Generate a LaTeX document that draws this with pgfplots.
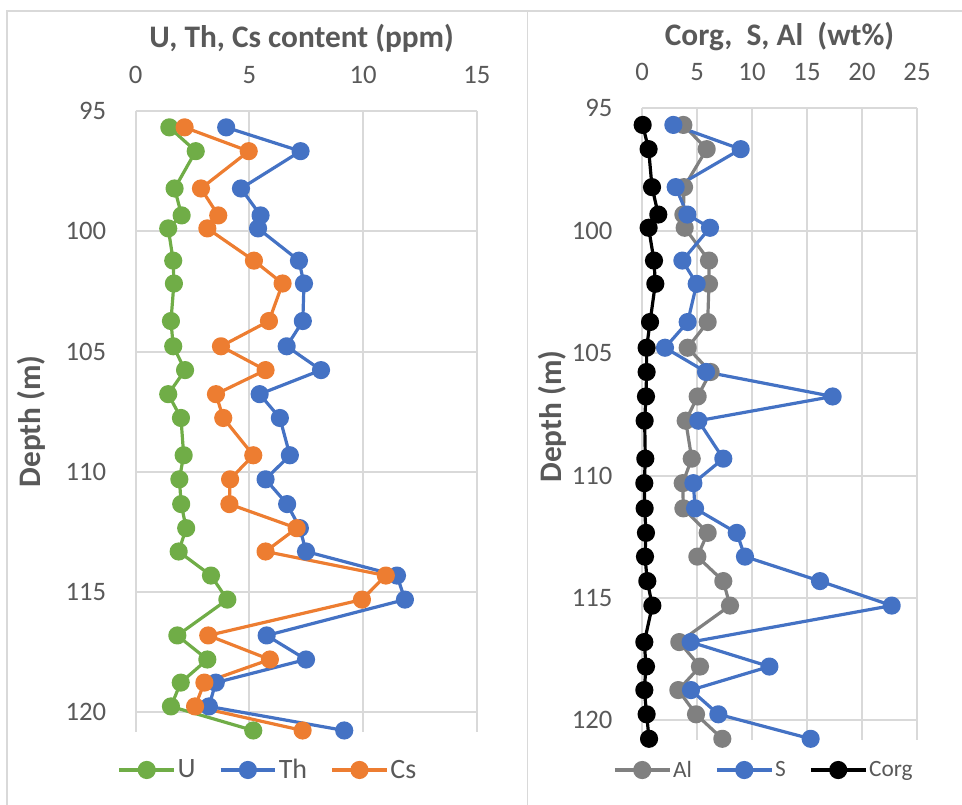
\documentclass[border=0pt]{standalone}
\usepackage{pgfplots}
\usepackage{pgfplotstable}
\pgfplotsset{compat=1.18}
\usepackage{fontspec}
\setmainfont{Carlito}

\definecolor{txt}{HTML}{595959}
\definecolor{gridc}{HTML}{D9D9D9}
\definecolor{cU}{HTML}{70AD47}
\definecolor{cTh}{HTML}{4472C4}
\definecolor{cCs}{HTML}{ED7D31}
\definecolor{cAl}{HTML}{808080}
\definecolor{cS}{HTML}{4472C4}

% depth (m), U, Th, Cs (ppm)
\pgfplotstableread{
depth  U     Th     Cs
95.68  1.48  3.98   2.15
96.67  2.64  7.25   4.97
98.22  1.71  4.63   2.87
99.34  2.02  5.49   3.63
99.88  1.43  5.38   3.15
101.22 1.65  7.18   5.20
102.17 1.68  7.40   6.46
103.73 1.55  7.35   5.86
104.78 1.65  6.64   3.75
105.77 2.17  8.15   5.71
106.77 1.43  5.45   3.53
107.76 1.99  6.34   3.85
109.31 2.11  6.78   5.17
110.31 1.92  5.71   4.15
111.34 2.00  6.66   4.12
112.34 2.22  7.22   7.08
113.31 1.89  7.49   5.71
114.31 3.31  11.49  11.00
115.31 4.03  11.84  9.95
116.80 1.83  5.76   3.19
117.80 3.15  7.49   5.90
118.76 1.98  3.52   3.02
119.75 1.55  3.22   2.61
120.75 5.17  9.17   7.34
}\trace

% depth (m), Al, S, Corg (wt%)
\pgfplotstableread{
depth  Al    S      Corg
95.68  3.76  2.85   0.06
96.67  5.88  8.97   0.60
98.22  3.82  3.06   0.91
99.34  3.76  4.12   1.48
99.88  3.88  6.18   0.60
101.22 6.09  3.67   1.09
102.17 6.09  4.97   1.21
103.73 5.97  4.15   0.73
104.78 4.15  2.09   0.42
105.77 6.24  5.82   0.42
106.77 5.06  17.33  0.36
107.76 3.97  5.12   0.24
109.31 4.52  7.39   0.30
110.31 3.70  4.67   0.21
111.34 3.76  4.82   0.24
112.34 5.97  8.61   0.36
113.31 5.03  9.36   0.27
114.31 7.39  16.18  0.48
115.31 8.00  22.70  0.94
116.80 3.39  4.42   0.21
117.80 5.27  11.58  0.36
118.76 3.30  4.45   0.21
119.75 4.91  6.94   0.42
120.75 7.30  15.33  0.64
}\major

\pgfplotsset{
  depthlog/.style={
    scale only axis,
    anchor=north west,
    y dir=reverse,
    ymin=95, ymax=120.8,
    ytick={95,100,...,120},
    xmin=0,
    axis x line*=top,
    axis y line*=left,
    axis line style={gridc, line width=1.5pt},
    grid=major,
    major grid style={gridc, line width=1.5pt},
    major tick length=0pt,
    clip=false,
    /pgf/number format/assume math mode=true,
    ticklabel style={font=\fontsize{20}{24}\selectfont, text=txt},
    xticklabel style={anchor=south, inner sep=0pt, yshift=20.5pt},
    yticklabel style={anchor=east, inner sep=0pt, xshift=-22pt},
    title style={font=\bfseries\fontsize{23.5}{28}\selectfont, text=txt,
      anchor=base, at={(axis description cs:0.5,1)}},
    ylabel={Depth (m)},
    ylabel style={font=\bfseries\fontsize{23.5}{28}\selectfont, text=txt,
      anchor=base},
    every axis plot/.append style={line width=2.4pt, mark=*, mark size=5.6pt,
      line join=round, mark options={solid}},
    legend columns=3,
    legend style={draw=none, fill=none, anchor=center, text=txt,
      nodes={inner sep=1.5pt},
      /tikz/every even column/.append style={column sep=16pt}},
    legend image code/.code={\draw[mark repeat=2,mark phase=2,#1]
      plot coordinates {(0pt,0pt) (20.5pt,0pt) (41pt,0pt)};},
  }
}

\begin{document}
\begin{tikzpicture}
\useasboundingbox (0pt,0pt) rectangle (721.5pt,-603.75pt);
% chart area frames
\draw[gridc, line width=1.2pt] (5.25pt,-603.75pt) -- (5.25pt,-8.25pt) -- (721.5pt,-8.25pt);
\draw[gridc, line width=1.2pt] (395.6pt,-8.25pt) -- (395.6pt,-603.75pt);

% U, Th, Cs
\begin{axis}[depthlog,
  at={(101.78pt,-83.25pt)},
  width=255.8pt, height=465.5pt,
  xmax=15, xtick={0,5,10,15},
  title={U, Th, Cs content (ppm)},
  title style={yshift=41.5pt, xshift=-3.5pt},
  ylabel style={at={(axis description cs:-0.278,0.5)}},
  legend style={at={(axis description cs:0.388,-0.0617)},
    font=\fontsize{21}{25}\selectfont},
]
\addplot[color=cU]  table[x=U,  y=depth] {\trace};
\addplot[color=cTh] table[x=Th, y=depth] {\trace};
\addplot[color=cCs] table[x=Cs, y=depth] {\trace};
\legend{U, Th, Cs}
\end{axis}

% Al, S, Corg
\begin{axis}[depthlog,
  at={(481.5pt,-81.2pt)},
  width=206.25pt, height=473.8pt,
  xmax=25, xtick={0,5,...,25},
  title={Corg,\ \ S, Al\ \ (wt\%)},
  title style={yshift=41pt},
  ylabel style={at={(axis description cs:-0.2945,0.512)}},
  legend style={at={(axis description cs:0.4436,-0.0475)},
    font=\fontsize{17.5}{21}\selectfont},
]
\addplot[color=cAl]   table[x=Al,   y=depth] {\major};
\addplot[color=cS]    table[x=S,    y=depth] {\major};
\addplot[color=black] table[x=Corg, y=depth] {\major};
\legend{Al, S, Corg}
\end{axis}
\end{tikzpicture}
\end{document}
